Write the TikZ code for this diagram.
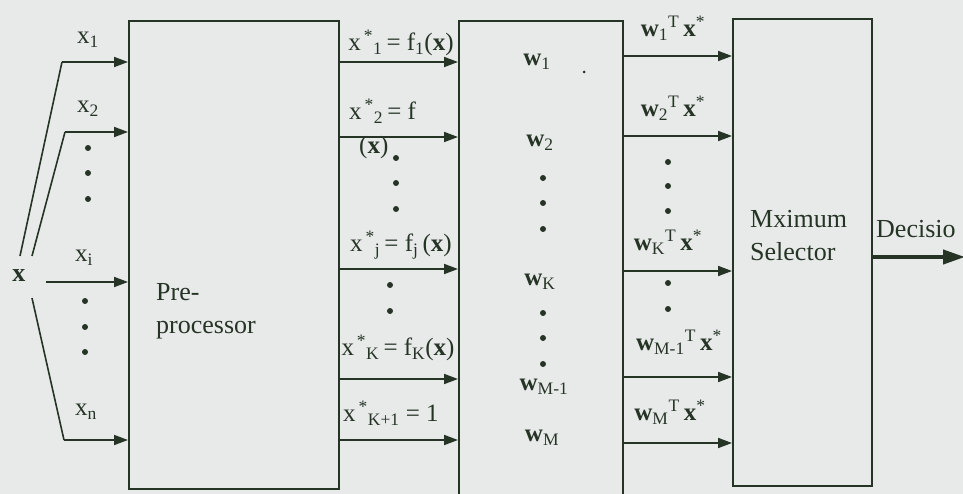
\documentclass[tikz,border=0pt]{standalone}
\usepackage{fontspec}
\setmainfont{Liberation Serif}
\usetikzlibrary{arrows.meta}
\definecolor{bg}{HTML}{E8EAEA}
\definecolor{ink}{HTML}{263426}
\newcommand{\bx}{\textbf{x}}
\newcommand{\bw}{\textbf{w}}
\newcommand{\xs}[1]{x\textsuperscript{\,*}\textsubscript{#1}}
\newcommand{\wtx}[1]{\bw\textsubscript{#1}\textsuperscript{T}\,\bx\textsuperscript{*}}
\begin{document}
\begin{tikzpicture}[x=1pt,y=-1pt,
  lab/.style={text=ink, inner sep=0pt, font=\fontsize{25}{27}\selectfont},
  big/.style={text=ink, inner sep=0pt, font=\fontsize{26}{33}\selectfont, align=left, anchor=west},
  ln/.style={draw=ink, line width=1.6pt},
  arr/.style={draw=ink, line width=1.8pt, -{Triangle[length=14pt,width=10pt]}},
  dotc/.style={circle, fill=ink, inner sep=0pt, minimum size=6pt},
  box/.style={draw=ink, line width=1.6pt, fill=none, anchor=north west, inner sep=0pt}]
\fill[bg] (0,0) rectangle (963,494);
\useasboundingbox (0,0) rectangle (963,494);
\clip (0,0) rectangle (963,494);

% boxes
\node[box, minimum width=210pt, minimum height=468pt] (pre) at (128,20) {};
\node[box, minimum width=164pt, minimum height=490pt] (wb) at (458,20) {};
\node[box, minimum width=139pt, minimum height=467pt] (sel) at (732,18) {};

% input side
\node[lab, font=\fontsize{26}{28}\selectfont\bfseries] (xin) at (19,276) {x};
\coordinate (s1) at (20,256);
\coordinate (b1) at (62,62);
\coordinate (s2) at (32,256);
\coordinate (b2) at (65,132);
\coordinate (s3) at (46,282);
\coordinate (s4) at (32,298);
\coordinate (b4) at (64,440);
\draw[ln] (s1) -- (b1);
\draw[arr] (b1) -- (pre.west |- b1);
\draw[ln] (s2) -- (b2);
\draw[arr] (b2) -- (pre.west |- b2);
\draw[arr] (s3) -- (pre.west |- s3);
\draw[ln] (s4) -- (b4);
\draw[arr] (b4) -- (pre.west |- b4);
\node[lab] (lx1) at (88,40) {x\textsubscript{1}};
\node[lab] (lx2) at (88,109) {x\textsubscript{2}};
\node[lab] (lxi) at (84,258) {x\textsubscript{i}};
\node[lab] (lxn) at (86,412) {x\textsubscript{n}};
\node[dotc] (da1) at (88,148) {};
\node[dotc] (da2) at (88,173) {};
\node[dotc] (da3) at (88,199) {};
\node[dotc] (da4) at (85,301) {};
\node[dotc] (da5) at (85,327) {};
\node[dotc] (da6) at (85,352) {};
\node[big] (ptxt) at (156,311) {Pre-\\processor};

% middle arrows
\foreach \i/\y in {1/62,2/137,3/269,4/379,5/440}{
  \coordinate (m\i) at (338,\y);
  \draw[arr] (m\i) -- (wb.west |- m\i);
}
\node[lab] (lf1) at (401,43) {\xs{1}\,= f\textsubscript{1}(\bx)};
\node[lab, anchor=west] (lf2) at (349,111) {\xs{2}\,= f};
\node[lab, anchor=west] (lf2b) at (359,147) {(\bx)};
\node[dotc] (db1) at (396,158) {};
\node[dotc] (db2) at (396,183) {};
\node[dotc] (db3) at (396,209) {};
\node[lab] (lfj) at (401,245) {\xs{j}\,= f\textsubscript{j}\,(\bx)};
\node[dotc] (db4) at (390,285) {};
\node[dotc] (db5) at (390,311) {};
\node[lab] (lfk) at (398,348) {\xs{K}\,= f\textsubscript{K}(\bx)};
\node[lab] (lfk1) at (391,413) {\xs{K+1} = 1};

% weights
\node[lab] (w1) at (537,62) {\bw\textsubscript{1}};
\node[circle, fill=ink, inner sep=0pt, minimum size=3pt] (sd) at (584,72) {};
\node[lab] (w2) at (540,143) {\bw\textsubscript{2}};
\node[dotc] (dc1) at (543,178) {};
\node[dotc] (dc2) at (543,203) {};
\node[dotc] (dc3) at (543,229) {};
\node[lab] (wk) at (540,282) {\bw\textsubscript{K}};
\node[dotc] (dc4) at (543,313) {};
\node[dotc] (dc5) at (543,338) {};
\node[dotc] (dc6) at (543,364) {};
\node[lab] (wm1) at (544,387) {\bw\textsubscript{M-1}};
\node[lab] (wm) at (542,438) {\bw\textsubscript{M}};

% right arrows
\foreach \i/\y in {1/56,2/136,3/271,4/377,5/443}{
  \coordinate (r\i) at (622,\y);
  \draw[arr] (r\i) -- (sel.west |- r\i);
}
\node[lab] (o1) at (673,28) {\wtx{1}};
\node[lab] (o2) at (673,108) {\wtx{2}};
\node[dotc] (dd1) at (668,162) {};
\node[dotc] (dd2) at (668,186) {};
\node[dotc] (dd3) at (668,211) {};
\node[lab] (ok) at (668,242) {\wtx{K}};
\node[dotc] (dd4) at (668,283) {};
\node[dotc] (dd5) at (668,309) {};
\node[lab] (om1) at (679,342) {\wtx{M-1}};
\node[lab] (om) at (670,412) {\wtx{M}};

% selector
\node[big] (stxt) at (750,236) {Mximum\\Selector};
\node[big] (dec) at (876,229) {Decisio};
\coordinate (dend) at (965,257);
\draw[draw=ink, line width=4pt, -{Triangle[length=22pt,width=14pt]}] (sel.east |- dend) -- (dend);
\end{tikzpicture}
\end{document}
